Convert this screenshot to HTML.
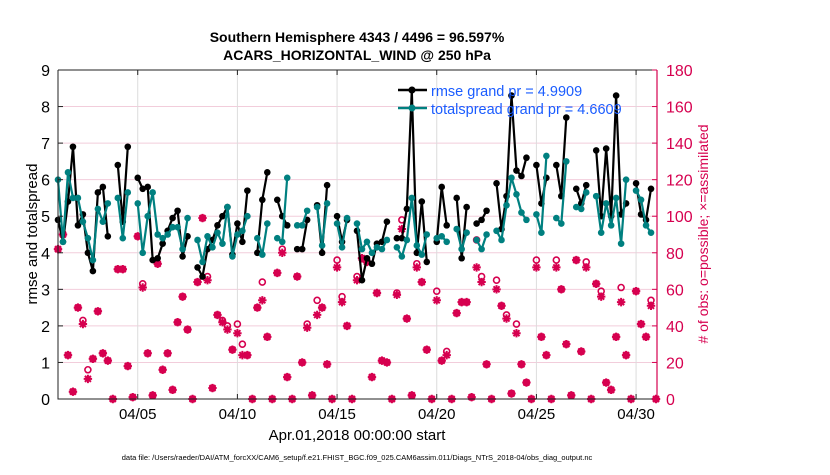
<!DOCTYPE html>
<html><head><meta charset="utf-8"><style>
body{margin:0;background:#fff;}
svg text{font-family:"Liberation Sans",Arial,sans-serif;}
</style></head><body>
<svg id="chart" width="830" height="470" viewBox="0 0 830 470" xmlns="http://www.w3.org/2000/svg">
<rect width="830" height="470" fill="#fff"/>
<g id="grid"></g>
<g id="marks"></g>
<g id="axes"></g>
<text x="357" y="42" text-anchor="middle" font-size="14" font-weight="bold">Southern Hemisphere 4343 / 4496 = 96.597%</text>
<text x="357" y="60" text-anchor="middle" font-size="14" font-weight="bold">ACARS_HORIZONTAL_WIND @ 250 hPa</text>
<text transform="translate(37,234) rotate(-90)" text-anchor="middle" font-size="15">rmse and totalspread</text>
<text transform="translate(708,234) rotate(-90)" text-anchor="middle" font-size="14" fill="#d6004f"># of obs: o=possible; ×=assimilated</text>
<text x="357" y="440" text-anchor="middle" font-size="15">Apr.01,2018 00:00:00 start</text>
<text x="357" y="460" text-anchor="middle" font-size="7.5">data file: /Users/raeder/DAI/ATM_forcXX/CAM6_setup/f.e21.FHIST_BGC.f09_025.CAM6assim.011/Diags_NTrS_2018-04/obs_diag_output.nc</text>
<g>
<line x1="398" y1="90" x2="427" y2="90" stroke="#000" stroke-width="2.5"/>
<circle cx="412" cy="90" r="3.5" fill="#000"/>
<text x="431" y="96" font-size="14.5" fill="#1a5cff">rmse grand pr = 4.9909</text>
<line x1="398" y1="108" x2="427" y2="108" stroke="#008080" stroke-width="2.5"/>
<circle cx="412" cy="108" r="3.5" fill="#008080"/>
<text x="431" y="114" font-size="14.5" fill="#1a5cff">totalspread grand pr = 4.6609</text>
</g>
</svg>
<script>
const N=null;
const rmse=[4.9,4.3,5.4,6.9,4.75,5.05,4.0,3.5,5.65,5.8,4.45,N,6.4,4.85,6.9,N,6.05,5.75,5.8,3.8,3.85,4.25,4.6,4.95,5.15,3.9,4.45,N,3.6,3.35,4.1,4.35,4.75,5.0,5.25,3.95,4.8,4.3,5.7,N,4.0,5.45,6.2,N,5.45,5.0,4.75,N,4.1,4.1,4.9,N,5.3,4.0,5.85,N,5.0,4.3,4.9,N,4.6,3.25,3.85,3.7,4.25,4.3,4.85,N,4.4,4.4,5.2,8.45,4.0,5.4,3.75,N,4.3,5.8,4.75,N,5.5,3.85,5.25,N,4.8,4.9,5.15,N,5.9,4.65,5.55,8.3,6.25,6.1,6.6,N,6.4,5.35,6.05,N,6.4,5.55,7.7,N,5.75,5.35,5.85,N,6.8,5.0,6.85,5.0,8.3,5.05,5.35,N,5.9,5.05,4.9,5.75];
const spread=[6.0,4.3,6.2,5.5,5.5,4.85,4.4,3.8,5.2,4.85,5.35,N,5.5,4.4,5.65,N,5.35,4.0,5.0,5.65,4.5,4.4,4.5,4.7,4.7,4.1,4.95,N,4.35,3.75,4.45,4.15,4.55,4.25,5.25,3.9,4.5,4.6,5.0,N,4.4,3.95,4.8,N,4.4,4.3,6.05,N,4.75,4.75,5.15,N,5.25,4.2,5.35,N,4.8,4.15,4.95,N,4.8,4.1,4.3,4.0,4.15,4.1,4.35,N,4.15,3.9,4.35,5.5,4.2,3.95,4.5,N,4.4,4.45,4.3,N,4.65,4.1,4.55,N,4.35,4.1,4.5,N,4.6,4.35,5.3,6.05,5.6,5.1,4.9,N,5.05,4.55,6.65,N,4.95,4.8,6.5,N,5.25,5.2,5.65,N,5.55,4.55,5.35,4.75,5.5,4.25,6.0,N,5.7,5.45,4.75,4.55];
const possible=[82,90,24,4,50,43,16,22,48,25,21,0,71,71,18,1,89,63,25,2,74,16,25,5,42,56,38,0,64,99,67,6,46,43,40,27,41,30,24,0,50,64,34,0,69,82,12,0,67,20,41,2,54,50,19,0,76,56,40,0,67,77,75,12,58,21,20,0,58,98,44,2,74,64,27,0,59,21,26,0,47,53,53,1,87,67,19,0,65,51,46,3,41,19,9,0,76,34,24,0,76,60,30,2,76,26,75,0,63,59,9,5,34,61,24,0,59,41,34,54,0];
const assimilated=[82,90,24,4,50,41,11,22,48,25,21,0,71,71,18,1,89,61,25,2,74,16,25,5,42,56,38,0,64,99,65,6,46,42,38,27,36,24,24,0,50,54,34,0,69,80,12,0,67,20,39,2,46,50,19,0,72,53,40,0,65,77,75,12,58,21,20,0,57,93,44,2,72,64,27,0,54,21,24,0,47,53,53,1,72,64,19,0,60,51,44,3,36,19,9,0,72,34,24,0,72,60,30,2,76,26,72,0,63,56,9,5,34,53,24,0,59,41,34,51,0];
const tickDays=[4,9,14,19,24,29];
const tickLabels=["04/05","04/10","04/15","04/20","04/25","04/30"];
const leftTicks=[0,1,2,3,4,5,6,7,8,9];
const rightTicks=[0,20,40,60,80,100,120,140,160,180];

const X0=58,X1=657,Y0=70,Y1=399,DMAX=30.05;
const xs=d=>X0+(d/DMAX)*(X1-X0);
const yL=v=>Y1-(v/9)*(Y1-Y0);
const yR=v=>Y1-(v/180)*(Y1-Y0);
const NS="http://www.w3.org/2000/svg";
function mk(tag,attrs,parent){const e=document.createElementNS(NS,tag);for(const k in attrs)e.setAttribute(k,attrs[k]);parent.appendChild(e);return e;}
const grid=document.getElementById('grid'),marks=document.getElementById('marks'),axes=document.getElementById('axes');

leftTicks.forEach(v=>{if(v>0&&v<9){const l=mk('line',{x1:X0,x2:X1,y1:yL(v),y2:yL(v),stroke:'#f2cddb','stroke-width':1},grid);

}});
tickDays.forEach(d=>{const l=mk('line',{x1:xs(d),x2:xs(d),y1:Y0,y2:Y1,stroke:'#dcdcdc','stroke-width':1},grid);

});

possible.forEach((v,i)=>{if(v==null)return;const c=mk('circle',{cx:xs(i*0.25),cy:yR(v),r:3,fill:'none',stroke:'#d6004f','stroke-width':1.6},marks);

});
assimilated.forEach((v,i)=>{if(v==null)return;const x=xs(i*0.25),y=yR(v),s=4.2,q=3;
const g=mk('path',{d:`M${x-s},${y}H${x+s}M${x},${y-s}V${y+s}M${x-q},${y-q}L${x+q},${y+q}M${x-q},${y+q}L${x+q},${y-q}`,stroke:'#d6004f','stroke-width':2,fill:'none'},marks);

});

function series(arr,color,name){let d='',pen=false;
arr.forEach((v,i)=>{if(v==null){pen=false;return;}d+=(pen?'L':'M')+xs(i*0.25).toFixed(1)+','+yL(v).toFixed(1);pen=true;});
const p=mk('path',{d:d,stroke:color,'stroke-width':2.2,fill:'none','stroke-linejoin':'round'},marks);


arr.forEach((v,i)=>{if(v==null)return;const c=mk('circle',{cx:xs(i*0.25),cy:yL(v),r:3.3,fill:color},marks);

});}
series(rmse,'#000','rmse');
series(spread,'#008080','totalspread');

const f=mk('path',{d:`M${X0},${Y0}H${X1}M${X0},${Y0}V${Y1}H${X1}`,stroke:'#222','stroke-width':1,fill:'none'},axes);


const ra=mk('line',{x1:X1,x2:X1,y1:Y0,y2:Y1,stroke:'#d6004f','stroke-width':1.2},axes);


leftTicks.forEach(v=>{mk('line',{x1:X0,x2:X0+5,y1:yL(v),y2:yL(v),stroke:'#222'},axes);
const t=mk('text',{x:X0-8,y:yL(v)+6,'text-anchor':'end','font-size':16},axes);t.textContent=v;

});
rightTicks.forEach(v=>{mk('line',{x1:X1-5,x2:X1,y1:yR(v),y2:yR(v),stroke:'#d6004f'},axes);
const t=mk('text',{x:X1+9,y:yR(v)+6,'font-size':16,fill:'#d6004f'},axes);t.textContent=v;

});
tickDays.forEach((d,k)=>{mk('line',{x1:xs(d),x2:xs(d),y1:Y1,y2:Y1-5,stroke:'#222'},axes);mk('line',{x1:xs(d),x2:xs(d),y1:Y0,y2:Y0+5,stroke:'#222'},axes);
const t=mk('text',{x:xs(d),y:Y1+20,'text-anchor':'middle','font-size':15},axes);t.textContent=tickLabels[k];

});
</script>
</body></html>
